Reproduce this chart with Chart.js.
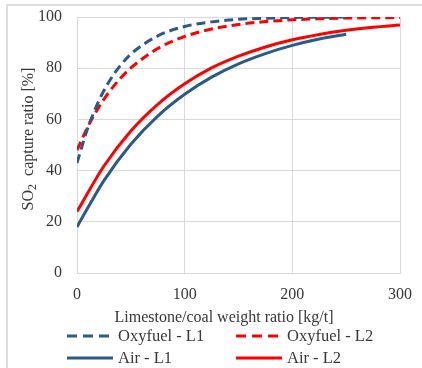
<!DOCTYPE html>
<html>
<head>
<meta charset="utf-8">
<script src="https://cdn.jsdelivr.net/npm/chart.js@4.4.0/dist/chart.umd.min.js"></script>
<style>
html,body{margin:0;padding:0;background:#fff;}
#wrap{position:relative;width:422px;height:368px;}
#frame{position:absolute;left:6px;top:4px;right:0;bottom:0;border-top:2px solid #dcdcdc;border-left:2px solid #dcdcdc;pointer-events:none;}
canvas{position:absolute;left:0;top:0;}
</style>
</head>
<body>
<div id="wrap"><canvas id="c" width="422" height="368"></canvas><div id="frame"></div></div>
<script>
// Data
const oxyL1X = [0,10,20,30,40,50,75,100,125,150,175,200,225,250];
const oxyL1Y = [43,56.6,67.0,74.9,80.9,85.5,92.6,96.3,98.1,99.1,99.5,99.8,99.9,100];
const oxyL2X = [0,10,20,30,40,50,75,100,125,150,175,200,225,250,275,300];
const oxyL2Y = [48,57.1,64.6,70.8,75.9,80.1,87.7,92.4,95.3,97.1,98.2,98.9,99.3,99.6,99.7,99.8];
const airL1X = [0,25,50,75,100,125,150,175,200,225,250];
const airL1Y = [18,36.1,50.3,61.3,69.8,76.5,81.7,85.7,88.9,91.4,93.3];
const airL2X = [0,25,50,75,100,125,150,175,200,225,250,275,300];
const airL2Y = [24,41.8,55.5,65.9,73.9,80.1,84.7,88.3,91.1,93.2,94.8,96.0,96.9];
const seriesNames = ['Oxyfuel - L1','Oxyfuel - L2','Air - L1','Air - L2'];
const xTicks = [0,100,200,300];
const yTicks = [0,20,40,60,80,100];
const xTitle = 'Limestone/coal weight ratio [kg/t]';

const BLUE = '#2B5A88', RED = '#FF0000';
const FONT = "'Liberation Serif', 'Times New Roman', serif";
const TXT = '#383838';
const DASH = [9,5];

function pts(xs, ys){ return xs.map((x,i)=>({x:x,y:ys[i]})); }
function zeroPad(s){ s.paddingTop = 0; s.paddingBottom = 0; s.paddingLeft = 0; s.paddingRight = 0; }

const datasets = [
  {label:seriesNames[0], data:pts(oxyL1X,oxyL1Y), borderColor:BLUE, borderDash:DASH},
  {label:seriesNames[1], data:pts(oxyL2X,oxyL2Y), borderColor:RED, borderDash:DASH},
  {label:seriesNames[2], data:pts(airL1X,airL1Y), borderColor:BLUE},
  {label:seriesNames[3], data:pts(airL2X,airL2Y), borderColor:RED}
].map(d=>Object.assign(d,{borderWidth:3,pointRadius:0,fill:false,cubicInterpolationMode:'monotone'}));

const extras = {
  id:'extras',
  afterDraw(chart){
    const ctx = chart.ctx;
    ctx.save();
    ctx.fillStyle = TXT;
    ctx.font = '16px ' + FONT;
    ctx.textAlign = 'center'; ctx.textBaseline = 'middle';
    ctx.fillText(xTitle, 224, 318);
    ctx.save();
    ctx.translate(29, 139);
    ctx.rotate(-Math.PI/2);
    const big = '16px ' + FONT, small = '12px ' + FONT;
    ctx.font = big; const w1 = ctx.measureText('SO').width;
    ctx.font = small; const w2 = ctx.measureText('2').width;
    ctx.font = big; const w3 = ctx.measureText('  capture ratio [%]').width;
    let x0 = -(w1+w2+w3)/2;
    ctx.textAlign = 'left';
    ctx.font = big; ctx.fillText('SO', x0, 0);
    ctx.font = small; ctx.fillText('2', x0+w1, 4);
    ctx.font = big; ctx.fillText('  capture ratio [%]', x0+w1+w2, 0);
    ctx.restore();
    const pos = [[67,336],[236,336],[67,358],[236,358]];
    chart.data.datasets.forEach((ds,i)=>{
      const [lx,ly] = pos[i];
      ctx.beginPath();
      ctx.strokeStyle = ds.borderColor; ctx.lineWidth = 3;
      ctx.setLineDash(ds.borderDash ? [10,6] : []);
      ctx.moveTo(lx, ly); ctx.lineTo(lx+46, ly); ctx.stroke();
      ctx.setLineDash([]);
      ctx.font = '16.5px ' + FONT; ctx.textAlign='left'; ctx.textBaseline='middle';
      ctx.fillStyle = TXT;
      ctx.fillText(ds.label, lx+51, ly+1);
    });
    ctx.restore();
  }
};

new Chart(document.getElementById('c'), {
  type:'line',
  data:{datasets:datasets},
  options:{
    responsive:false, animation:false,
    layout:{padding:{left:0,right:22,top:17,bottom:0}},
    plugins:{legend:{display:false}, tooltip:{enabled:false}},
    scales:{
      x:{type:'linear', min:0, max:300,
        afterFit(s){ s.height = 95; zeroPad(s); },
        afterBuildTicks(s){ s.ticks = xTicks.map(v=>({value:v})); },
        grid:{color:'#d9d9d9', lineWidth:1, drawTicks:false},
        border:{color:'#d9d9d9', width:1},
        ticks:{padding:12, color:TXT, font:{family:FONT, size:16}}
      },
      y:{type:'linear', min:0, max:100,
        afterFit(s){ s.width = 77; zeroPad(s); },
        afterBuildTicks(s){ s.ticks = yTicks.map(v=>({value:v})); },
        grid:{color:'#d9d9d9', lineWidth:1, drawTicks:false},
        border:{color:'#d9d9d9', width:1},
        ticks:{padding:15, color:TXT, font:{family:FONT, size:16}}
      }
    }
  },
  plugins:[extras]
});
</script>
</body>
</html>
